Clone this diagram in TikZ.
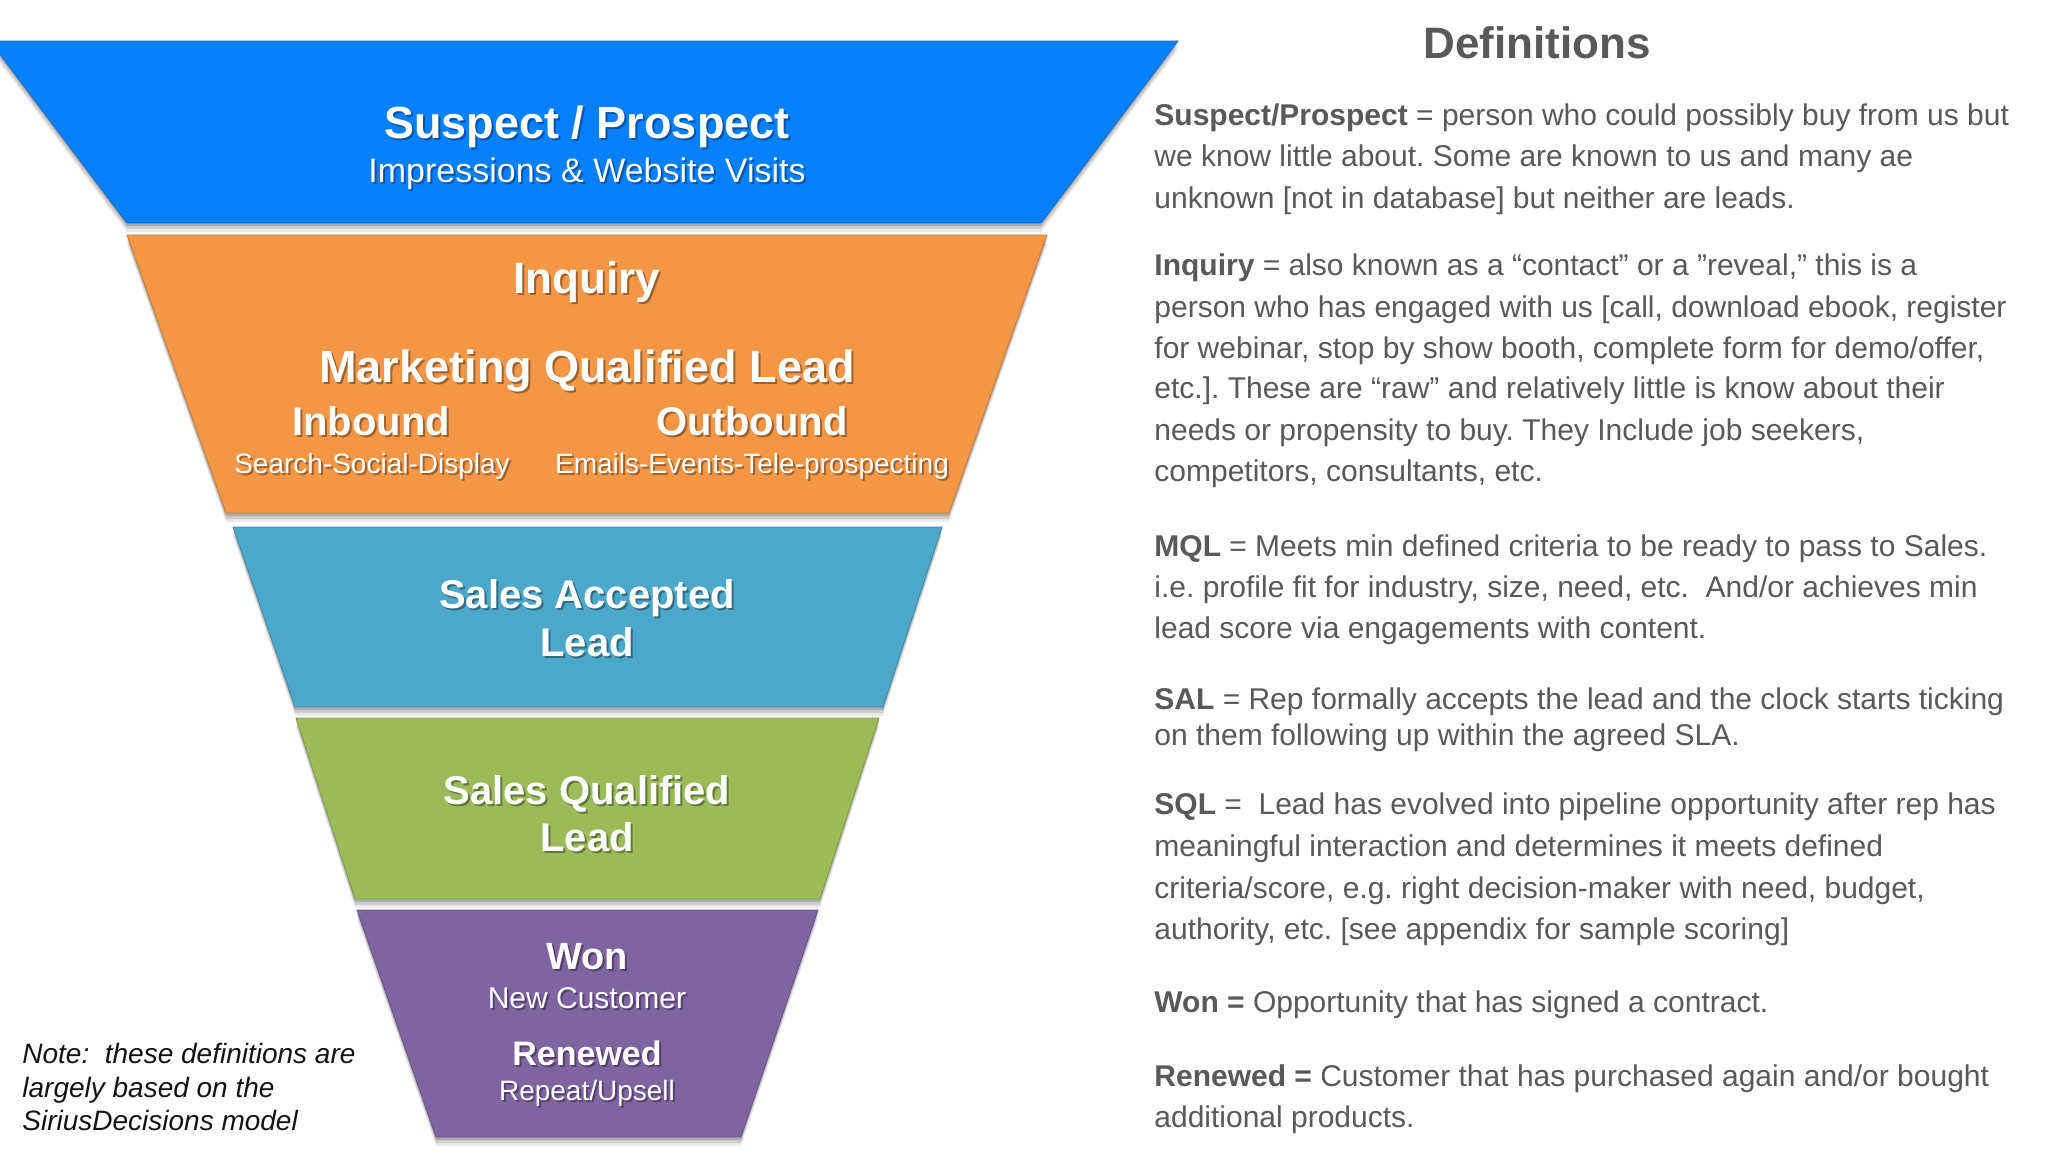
\documentclass[tikz,border=0pt]{standalone}
\usepackage{fontspec}
\setmainfont{Liberation Sans}
\AtBeginDocument{\frenchspacing}
\definecolor{fblue}{RGB}{5,128,255}
\definecolor{forange}{RGB}{243,150,69}
\definecolor{fteal}{RGB}{75,168,200}
\definecolor{fgreen}{RGB}{155,187,89}
\definecolor{fpurple}{RGB}{128,100,162}
\definecolor{dtext}{RGB}{89,89,89}
\definecolor{notetext}{RGB}{20,20,20}
\tikzset{
 ftxt/.style={text=white,anchor=base,inner sep=0pt},
 deftxt/.style={text=dtext,anchor=base west,inner sep=0pt,font=\fontsize{15}{18}\selectfont},
 notetxt/.style={text=notetext,anchor=base west,inner sep=0pt,font=\itshape\fontsize{14}{17}\selectfont},
}
% name, position, font, text : white text with a soft dark shadow
\newcommand\ftext[4]{%
  \node[ftxt,font=#3,text=black,text opacity=0.35,xshift=1pt,yshift=-1pt] (#1s) at (#2) {#4};
  \node[ftxt,font=#3] (#1) at (#2) {#4};}
% colour, polygon : funnel band with drop shadow
\newcommand\band[2]{%
  \foreach \d/\o in {4.5pt/0.08,3pt/0.12,1.5pt/0.16}{\fill[black,opacity=\o,yshift=-\d] #2 -- cycle;}
  \fill[#1,draw=#1!82!black,line width=0.4pt] #2 -- cycle;}
\begin{document}
\begin{tikzpicture}[x=0.5pt,y=-0.5pt]
\useasboundingbox (0,0) rectangle (2048,1152);
\clip (0,0) rectangle (2048,1152);
\fill[white] (0,0) rectangle (2048,1152);

% funnel bands
\band{fblue}{(-10,41) -- (1178,41) -- (1041,223) -- (127,223)}
\band{forange}{(127,235) -- (1047,235) -- (949,513) -- (226,513)}
\band{fteal}{(233,527) -- (942,527) -- (883,707) -- (295,707)}
\band{fgreen}{(296,718) -- (879,718) -- (820,899) -- (355,899)}
\band{fpurple}{(357,910) -- (818,910) -- (741,1137) -- (436,1137)}

% funnel texts
\ftext{sp}{587,138}{\bfseries\fontsize{22.5}{27}\selectfont}{Suspect / Prospect}
\ftext{iw}{587,182}{\fontsize{17}{20}\selectfont}{Impressions \& Website Visits}
\ftext{inq}{587,293}{\bfseries\fontsize{22}{26}\selectfont}{Inquiry}
\ftext{mql}{587,382}{\bfseries\fontsize{22.5}{27}\selectfont}{Marketing Qualified Lead}
\ftext{inb}{371,435}{\bfseries\fontsize{20}{24}\selectfont}{Inbound}
\ftext{outb}{752,435}{\bfseries\fontsize{20}{24}\selectfont}{Outbound}
\ftext{ssd}{372,473}{\fontsize{14}{17}\selectfont}{Search-Social-Display}
\ftext{eet}{752,473}{\fontsize{14}{17}\selectfont}{Emails-Events-Tele-prospecting}
\ftext{sal}{587,608}{\bfseries\fontsize{20}{24}\selectfont}{Sales Accepted}
\ftext{sall}{587,656}{\bfseries\fontsize{20}{24}\selectfont}{Lead}
\ftext{sql}{587,804}{\bfseries\fontsize{20}{24}\selectfont}{Sales Qualified}
\ftext{sqll}{587,851}{\bfseries\fontsize{20}{24}\selectfont}{Lead}
\ftext{won}{587,969}{\bfseries\fontsize{19}{23}\selectfont}{Won}
\ftext{nc}{587,1008}{\fontsize{15}{18}\selectfont}{New Customer}
\ftext{ren}{587,1065}{\bfseries\fontsize{17}{20}\selectfont}{Renewed}
\ftext{ru}{587,1100}{\fontsize{14}{17}\selectfont}{Repeat/Upsell}

% note
\node[notetxt] (n1) at (22,1063) {Note:\ \ these definitions are};
\node[notetxt] (n2) at (22,1097) {largely based on the};
\node[notetxt] (n3) at (22,1130) {SiriusDecisions model};

% definitions
\node[text=dtext,anchor=base,inner sep=0pt,font=\bfseries\fontsize{22}{26}\selectfont] (defs) at (1537,58) {Definitions};
\node[deftxt] (d1) at (1154,125) {{\bfseries Suspect/Prospect} = person who could possibly buy from us but};
\node[deftxt] (d2) at (1154,166) {we know little about. Some are known to us and many ae};
\node[deftxt] (d3) at (1154,208) {unknown [not in database] but neither are leads.};
\node[deftxt] (d4) at (1154,275) {{\bfseries Inquiry} = also known as a “contact” or a ”reveal,” this is a};
\node[deftxt] (d5) at (1154,317) {person who has engaged with us [call, download ebook, register};
\node[deftxt] (d6) at (1154,358) {for webinar, stop by show booth, complete form for demo/offer,};
\node[deftxt] (d7) at (1154,398) {etc.]. These are “raw” and relatively little is know about their};
\node[deftxt] (d8) at (1154,440) {needs or propensity to buy. They Include job seekers,};
\node[deftxt] (d9) at (1154,481) {competitors, consultants, etc.};
\node[deftxt] (d10) at (1154,556) {{\bfseries MQL} = Meets min defined criteria to be ready to pass to Sales.};
\node[deftxt] (d11) at (1154,597) {i.e. profile fit for industry, size, need, etc.\ \ And/or achieves min};
\node[deftxt] (d12) at (1154,638) {lead score via engagements with content.};
\node[deftxt] (d13) at (1154,709) {{\bfseries SAL} = Rep formally accepts the lead and the clock starts ticking};
\node[deftxt] (d14) at (1154,745) {on them following up within the agreed SLA.};
\node[deftxt] (d15) at (1154,814) {{\bfseries SQL} =\ \ Lead has evolved into pipeline opportunity after rep has};
\node[deftxt] (d16) at (1154,856) {meaningful interaction and determines it meets defined};
\node[deftxt] (d17) at (1154,898) {criteria/score, e.g. right decision-maker with need, budget,};
\node[deftxt] (d18) at (1154,939) {authority, etc. [see appendix for sample scoring]};
\node[deftxt] (d19) at (1154,1012) {{\bfseries Won =} Opportunity that has signed a contract.};
\node[deftxt] (d20) at (1154,1086) {{\bfseries Renewed =} Customer that has purchased again and/or bought};
\node[deftxt] (d21) at (1154,1127) {additional products.};
\end{tikzpicture}
\end{document}
